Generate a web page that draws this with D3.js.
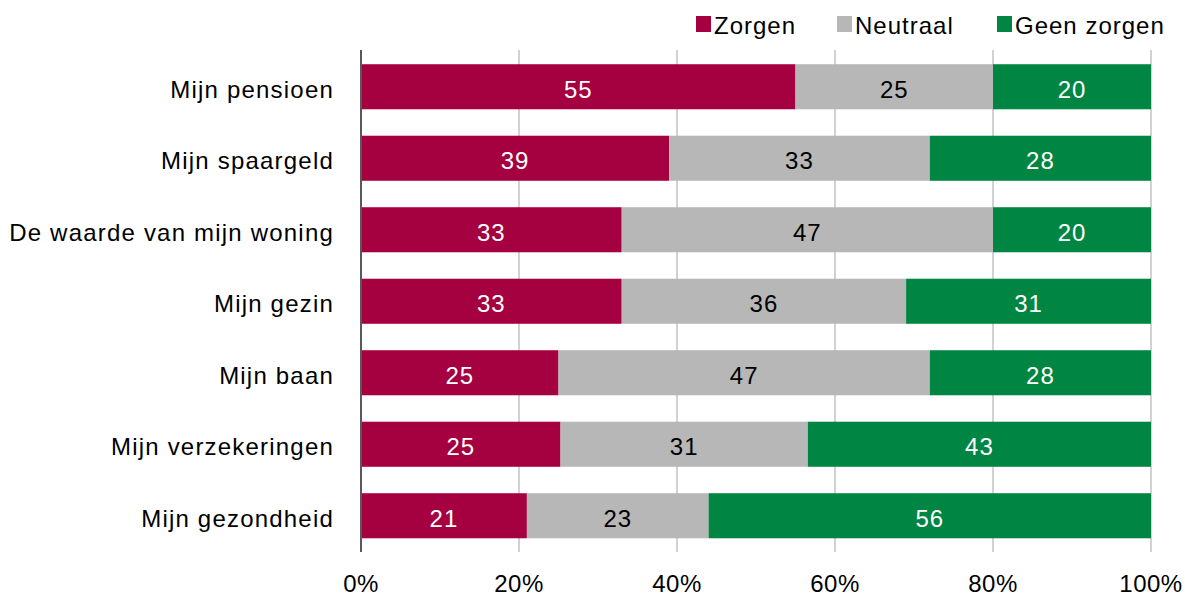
<!DOCTYPE html>
<html><head><meta charset="utf-8">
<script src="https://cdn.jsdelivr.net/npm/d3@7"></script>
<style>body{margin:0;background:#fff}svg{display:block}text{font-family:"Liberation Sans",Arial,sans-serif}</style>
</head><body>
<svg id="c" width="1185" height="597"></svg>
<script>
const categories = ["Mijn pensioen","Mijn spaargeld","De waarde van mijn woning","Mijn gezin","Mijn baan","Mijn verzekeringen","Mijn gezondheid"];
const seriesNames = ["Zorgen","Neutraal","Geen zorgen"];
const zorgen   = [55,39,33,33,25,25,21];
const neutraal = [25,33,47,36,47,31,23];
const geen     = [20,28,20,31,28,43,56];
const tickValues = [0,0.2,0.4,0.6,0.8,1];
const colors = ["#A50040","#B7B7B7","#008542"];
const labelColors = ["#fff","#000","#fff"];

const svg = d3.select("#c");
const x = d3.scaleLinear().domain([0,1]).range([361,1151]);
const y = d3.scaleBand().domain(categories).range([51,551.5]).paddingInner(0.37).paddingOuter(0.185);

const rows = categories.map((c,i)=>{const v=[zorgen[i],neutraal[i],geen[i]];const s=d3.sum(v);let acc=0;
  return v.map((d,k)=>{const seg={cat:c,k,val:d,x0:acc/s,x1:(acc+d)/s};acc+=d;return seg;});});

// gridlines
svg.append("g").selectAll("line").data(tickValues.slice(1)).join("line")
  .attr("x1",d=>x(d)).attr("x2",d=>x(d)).attr("y1",50).attr("y2",552)
  .attr("stroke","#c3c3c3").attr("stroke-width",1.5);

// bars
const g = svg.append("g");
rows.flat().forEach(s=>{
  g.append("rect").attr("x",x(s.x0)).attr("width",x(s.x1)-x(s.x0))
   .attr("y",y(s.cat)).attr("height",y.bandwidth()).attr("fill",colors[s.k]);
  g.append("text").attr("x",(x(s.x0)+x(s.x1))/2).attr("y",y(s.cat)+y.bandwidth()/2+11)
   .attr("text-anchor","middle").attr("font-size",24).attr("letter-spacing",1)
   .attr("fill",labelColors[s.k]).text(s.val);
});

// left axis line
svg.append("line").attr("x1",x(0)).attr("x2",x(0)).attr("y1",50).attr("y2",552)
  .attr("stroke","#595959").attr("stroke-width",2);

// category labels
svg.append("g").selectAll("text").data(categories).join("text")
  .attr("x",334).attr("y",d=>y(d)+y.bandwidth()/2+11).attr("text-anchor","end")
  .attr("font-size",24).attr("letter-spacing",1.2).attr("fill","#000").text(d=>d);

// x tick labels
const fmt = d3.format(".0%");
svg.append("g").selectAll("text").data(tickValues).join("text")
  .attr("x",d=>x(d)).attr("y",592).attr("text-anchor","middle")
  .attr("font-size",24).attr("letter-spacing",0.5).attr("fill","#000").text(d=>fmt(d));

// legend
const legX = [696,837,997];
const leg = svg.append("g");
seriesNames.forEach((n,i)=>{
  leg.append("rect").attr("x",legX[i]).attr("y",16).attr("width",15).attr("height",16).attr("fill",colors[i]);
  leg.append("text").attr("x",legX[i]+18).attr("y",34).attr("font-size",24).attr("letter-spacing",1).attr("fill","#000").text(n);
});
</script>
</body></html>
